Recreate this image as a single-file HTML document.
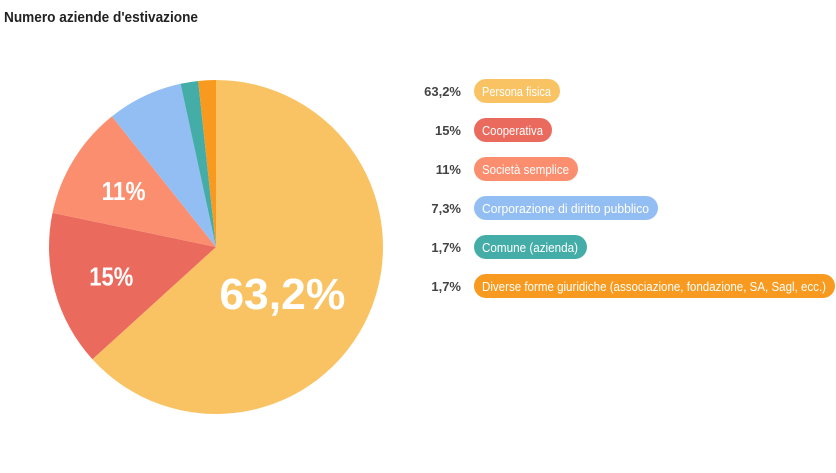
<!DOCTYPE html>
<html><head><meta charset="utf-8">
<style>
html,body{margin:0;padding:0;background:#fff;}
body{width:836px;height:468px;overflow:hidden;font-family:"Liberation Sans",sans-serif;}
</style></head>
<body>
<svg width="836" height="468" xmlns="http://www.w3.org/2000/svg">
<text x="4" y="22" font-size="15" font-weight="bold" fill="#222" textLength="194" lengthAdjust="spacingAndGlyphs">Numero aziende d'estivazione</text>
<g id="slices"></g>
<g id="labels"></g>
<g id="legend"></g>
</svg>
<script>
const categories = ["Persona fisica","Cooperativa","Società semplice","Corporazione di diritto pubblico","Comune (azienda)","Diverse forme giuridiche (associazione, fondazione, SA, Sagl, ecc.)"];
const values = [63.2, 15, 11, 7.3, 1.7, 1.7];
const valueLabels = ["63,2%","15%","11%","7,3%","1,7%","1,7%"];
const colors = ["#f9c364","#eb6a5e","#fb8e6e","#93bef4","#45ada8","#f89a1f"];
const pillWidths = [86,78,104,184,113,361];

const NS="http://www.w3.org/2000/svg";
const cx=216, cy=247, R=167;
const total=values.reduce((a,b)=>a+b,0);
function pt(frac,r){const a=frac*2*Math.PI;return [cx+r*Math.sin(a), cy-r*Math.cos(a)];}
const gS=document.getElementById('slices'), gL=document.getElementById('labels'), gG=document.getElementById('legend');
let acc=0;
values.forEach((v,i)=>{
  const f0=acc/total, f1=(acc+v)/total; acc+=v;
  const [x0,y0]=pt(f0,R),[x1,y1]=pt(f1,R);
  const large=(f1-f0)>0.5?1:0;
  const p=document.createElementNS(NS,'path');
  p.setAttribute('d',`M${cx},${cy} L${x0},${y0} A${R},${R} 0 ${large} 1 ${x1},${y1} Z`);
  p.setAttribute('fill',colors[i]);
  
  
  gS.appendChild(p);
  const share=v/total;
  if(share>=0.1){
    const big=share>0.5;
    const [lx,ly]=pt((f0+f1)/2, big?R*0.5:R*0.65);
    const t=document.createElementNS(NS,'text');
    t.setAttribute('x',lx-(big?10:0)); t.setAttribute('y',ly+(big?28:10));
    t.setAttribute('text-anchor','middle');
    t.setAttribute('font-size',big?44:26);
    t.setAttribute('font-weight','bold');
    t.setAttribute('fill','#fff');
    t.setAttribute('textLength',big?126:44);
    t.setAttribute('lengthAdjust','spacingAndGlyphs');
    t.textContent=valueLabels[i];
    
    
    gL.appendChild(t);
  }
  const y=91+i*39;
  const g=document.createElementNS(NS,'g');
  
  
  const vt=document.createElementNS(NS,'text');
  vt.setAttribute('x',461); vt.setAttribute('y',y+5);
  vt.setAttribute('text-anchor','end'); vt.setAttribute('font-size',13); vt.setAttribute('font-weight','bold'); vt.setAttribute('fill','#444');
  vt.textContent=valueLabels[i];
  
  
  g.appendChild(vt);
  const r=document.createElementNS(NS,'rect');
  r.setAttribute('x',474); r.setAttribute('y',y-12); r.setAttribute('width',pillWidths[i]); r.setAttribute('height',24);
  r.setAttribute('rx',12); r.setAttribute('fill',colors[i]);
  
  
  g.appendChild(r);
  const lt=document.createElementNS(NS,'text');
  lt.setAttribute('x',482); lt.setAttribute('y',y+5); lt.setAttribute('font-size',13); lt.setAttribute('fill','#fff');
  lt.setAttribute('textLength',pillWidths[i]-17); lt.setAttribute('lengthAdjust','spacingAndGlyphs');
  lt.textContent=categories[i];
  
  
  g.appendChild(lt);
  gG.appendChild(g);
});
</script>
</body></html>
